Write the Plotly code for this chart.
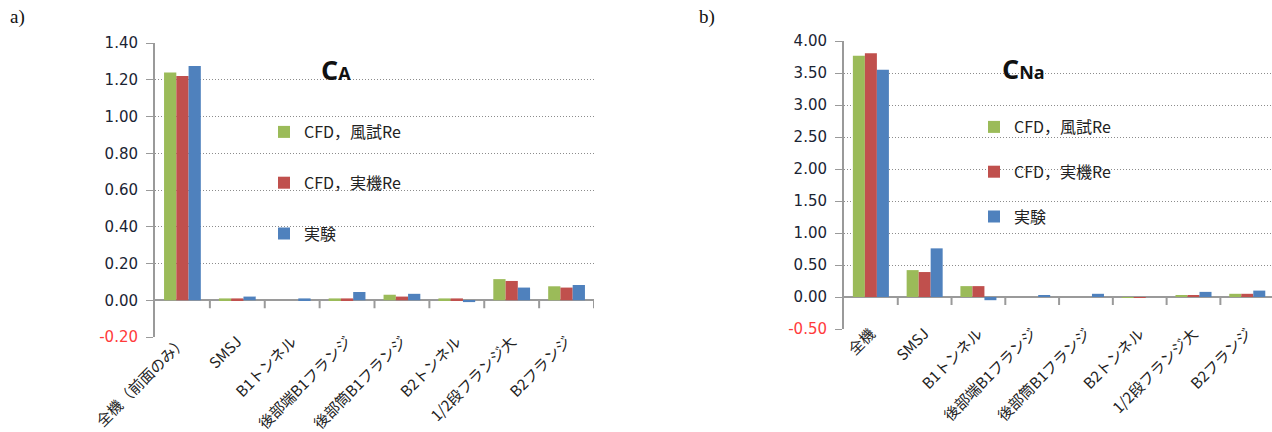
import plotly.graph_objects as go

# ---------------- data ----------------
cats_a = ["全機（前面のみ）", "SMSJ", "B1トンネル", "後部端B1フランジ",
          "後部筒B1フランジ", "B2トンネル", "1/2段フランジ大", "B2フランジ"]
cats_b = ["全機", "SMSJ", "B1トンネル", "後部端B1フランジ",
          "後部筒B1フランジ", "B2トンネル", "1/2段フランジ大", "B2フランジ"]

series_names = ["CFD，風試Re", "CFD，実機Re", "実験"]
colors = ["#9BBB59", "#C0504D", "#4F81BD"]

ca_cfd_wind = [1.24, 0.01, 0.00, 0.01, 0.03, 0.01, 0.115, 0.076]
ca_cfd_real = [1.22, 0.01, 0.00, 0.01, 0.02, 0.01, 0.105, 0.069]
ca_exp = [1.275, 0.02, 0.01, 0.045, 0.035, -0.01, 0.069, 0.083]

cna_cfd_wind = [3.77, 0.42, 0.17, 0.00, 0.00, -0.01, 0.02, 0.05]
cna_cfd_real = [3.81, 0.39, 0.17, 0.00, 0.00, -0.01, 0.03, 0.05]
cna_exp = [3.55, 0.76, -0.05, 0.02, 0.05, 0.00, 0.08, 0.10]

ticks_a = [-0.20, 0.00, 0.20, 0.40, 0.60, 0.80, 1.00, 1.20, 1.40]
ticks_b = [-0.50, 0.00, 0.50, 1.00, 1.50, 2.00, 2.50, 3.00, 3.50, 4.00]

W, H = 1272, 432
JP = "Noto Sans CJK JP"
NUM = "DejaVu Sans"


def px(x):
    return x / W


def py(y):
    return 1 - y / H


def tick_text(vals):
    out = []
    for v in vals:
        s = f"{v:.2f}"
        if v < 0:
            s = f'<span style="color:#FF3B3B">{s}</span>'
        out.append(s)
    return out


fig = go.Figure()

data_a = [ca_cfd_wind, ca_cfd_real, ca_exp]
data_b = [cna_cfd_wind, cna_cfd_real, cna_exp]

for i, (name, col) in enumerate(zip(series_names, colors)):
    fig.add_trace(go.Bar(x=cats_a, y=data_a[i], name=name, marker_color=col,
                         marker_line_width=0, xaxis="x", yaxis="y",
                         legend="legend", legendgroup=f"a{i}"))
for i, (name, col) in enumerate(zip(series_names, colors)):
    fig.add_trace(go.Bar(x=cats_b, y=data_b[i], name=name, marker_color=col,
                         marker_line_width=0, xaxis="x2", yaxis="y2",
                         legend="legend2", legendgroup=f"b{i}"))

axis_common = dict(
    showgrid=True, gridcolor="#8C8C8C", griddash="1px,2px", gridwidth=1,
    showline=True, linecolor="#9A9A9A", linewidth=2,
    ticks="outside", ticklen=7, tickcolor="#9A9A9A", tickwidth=1,
    zeroline=True, zerolinecolor="#9A9A9A", zerolinewidth=2,
    tickfont=dict(family=NUM, size=15, color="#1A2433"),
    ticklabelstandoff=5, automargin=False, tickmode="array",
)
xaxis_common = dict(
    showgrid=False, showline=False, zeroline=False, ticks="",
    tickangle=-45, tickfont=dict(family=JP, size=15, color="#222"),
    ticklabelstandoff=-8,
    automargin=False, type="category",
)

fig.update_layout(
    width=W, height=H,
    margin=dict(l=0, r=0, t=0, b=0),
    paper_bgcolor="white", plot_bgcolor="white",
    barmode="group", bargap=0.33, bargroupgap=0,
    xaxis=dict(domain=[px(155), px(594)], anchor="y", range=[-0.5, 7.5], **xaxis_common),
    yaxis=dict(domain=[py(337), py(43)], anchor="x", range=[-0.2, 1.4],
               tickvals=ticks_a, ticktext=tick_text(ticks_a), **axis_common),
    xaxis2=dict(domain=[px(844), 1.0], anchor="y2", range=[-0.5, 7.46], **xaxis_common),
    yaxis2=dict(domain=[py(329), py(41)], anchor="x2", range=[-0.5, 4.0],
                tickvals=ticks_b, ticktext=tick_text(ticks_b), **axis_common),
    legend=dict(x=px(264), y=py(115), xanchor="left", yanchor="top",
                bgcolor="rgba(0,0,0,0)", tracegroupgap=27,
                font=dict(family=JP, size=16, color="#222"), itemclick=False),
    legend2=dict(x=px(974), y=py(110), xanchor="left", yanchor="top",
                 bgcolor="rgba(0,0,0,0)", tracegroupgap=21,
                 font=dict(family=JP, size=16, color="#222"), itemclick=False),
    showlegend=True,
)

shapes = []
# white panels behind legends (interrupt gridlines)
shapes.append(dict(type="rect", xref="paper", yref="paper", x0=px(258), x1=px(435),
                   y0=py(250), y1=py(92), fillcolor="white", line_width=0, layer="between"))
shapes.append(dict(type="rect", xref="paper", yref="paper", x0=px(973), x1=px(1137),
                   y0=py(250), y1=py(90), fillcolor="white", line_width=0, layer="between"))
# category boundary ticks on the zero line
for xr, yr, n in (("x", "y", len(cats_a)), ("x2", "y2", len(cats_b))):
    for k in range(n):
        shapes.append(dict(type="line", xref=xr, yref=yr, ysizemode="pixel", yanchor=0,
                           x0=k + 0.5, x1=k + 0.5, y0=0, y1=-8,
                           line=dict(color="#9A9A9A", width=2), layer="above"))
fig.update_layout(shapes=shapes)

annotations = [
    dict(text="a)", x=px(8), y=py(17), xref="paper", yref="paper", xanchor="left",
         yanchor="middle", showarrow=False, font=dict(family="Liberation Serif", size=19, color="#111")),
    dict(text="b)", x=px(697), y=py(17), xref="paper", yref="paper", xanchor="left",
         yanchor="middle", showarrow=False, font=dict(family="Liberation Serif", size=19, color="#111")),
    dict(text='<b>C<span style="font-size:18px">A</span></b>', x=px(336), y=py(70),
         xref="paper", yref="paper", xanchor="center", yanchor="middle", showarrow=False,
         font=dict(family="Open Sans", size=27, color="#111")),
    dict(text='<b>C<span style="font-size:18px">Na</span></b>', x=px(1023), y=py(68),
         xref="paper", yref="paper", xanchor="center", yanchor="middle", showarrow=False,
         font=dict(family="Open Sans", size=27, color="#111")),
]
fig.update_layout(annotations=annotations)

fig.write_html("out.html")
